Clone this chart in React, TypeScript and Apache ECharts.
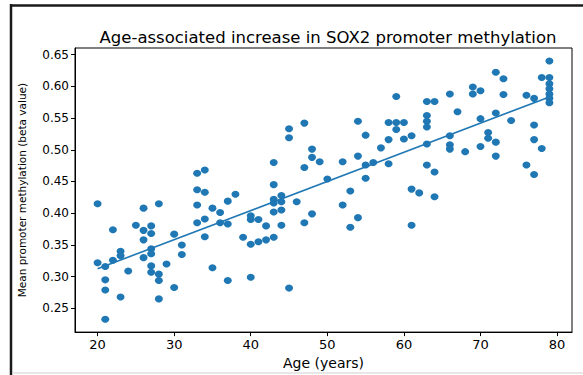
import React, { useEffect, useRef } from "react";
import * as echarts from "echarts";

const ages: number[] = [
  20, 20, 21, 21, 21, 21, 22, 22, 23, 23, 23, 24, 25, 26, 26, 26, 26,
  27, 27, 27, 27, 27, 27, 28, 28, 28, 28, 29, 30, 30, 31, 31,
  33, 33, 33, 33, 34, 34, 34, 34, 35, 35, 36, 36, 37, 37, 37, 38, 39,
  40, 40, 40, 40, 41, 41, 42, 42, 43, 43, 43, 43, 43, 43, 44, 44, 44, 44,
  45, 45, 45, 46, 47, 47, 47, 48, 48, 48, 49, 50, 52, 52, 53, 53,
  54, 54, 54, 55, 55, 55, 56, 57, 58, 58, 58, 59, 59, 59, 60, 60,
  61, 61, 61, 62, 63, 63, 63, 63, 63, 63, 64, 64, 64, 66, 66, 66, 66,
  67, 68, 69, 69, 70, 70, 70, 71, 71, 72, 72, 72, 72, 73, 73, 74,
  76, 76, 77, 77, 77, 77, 78, 78, 79, 79, 79, 79, 79, 79, 79,
];

const methylation: number[] = [
  0.415, 0.322, 0.316, 0.295, 0.279, 0.233, 0.374, 0.326, 0.34, 0.333, 0.268, 0.309, 0.381,
  0.408, 0.373, 0.358, 0.33,
  0.38, 0.368, 0.344, 0.336, 0.317, 0.307, 0.415, 0.304, 0.294, 0.265, 0.32, 0.367, 0.283,
  0.35, 0.335,
  0.463, 0.437, 0.413, 0.385, 0.468, 0.433, 0.391, 0.363, 0.408, 0.314, 0.401, 0.385,
  0.419, 0.383, 0.294, 0.43, 0.362,
  0.396, 0.39, 0.351, 0.299, 0.39, 0.355, 0.38, 0.358, 0.48, 0.445, 0.422, 0.416, 0.402, 0.362,
  0.428, 0.418, 0.405, 0.381,
  0.533, 0.519, 0.282, 0.418, 0.542, 0.472, 0.385, 0.501, 0.488, 0.399, 0.481, 0.454,
  0.481, 0.413, 0.435, 0.378,
  0.545, 0.49, 0.393, 0.523, 0.476, 0.455, 0.48, 0.503, 0.543, 0.516, 0.478, 0.584, 0.543, 0.532,
  0.543, 0.517,
  0.522, 0.438, 0.381, 0.432, 0.576, 0.554, 0.545, 0.536, 0.509, 0.476, 0.576, 0.465, 0.426,
  0.588, 0.522, 0.508, 0.501,
  0.56, 0.497, 0.599, 0.588, 0.593, 0.549, 0.505, 0.527, 0.518, 0.622, 0.558, 0.512, 0.49,
  0.612, 0.587, 0.546,
  0.586, 0.476, 0.581, 0.539, 0.516, 0.461, 0.614, 0.502, 0.64, 0.614, 0.604, 0.596, 0.588, 0.581, 0.574,
];

const xTicks: number[] = [20, 30, 40, 50, 60, 70, 80];
const yTicks: number[] = [0.25, 0.3, 0.35, 0.4, 0.45, 0.5, 0.55, 0.6, 0.65];

const titleText = "Age-associated increase in SOX2 promoter methylation";
const xName = "Age (years)";
const yName = "Mean promoter methylation (beta value)";

export default function App() {
  const ref = useRef<HTMLDivElement>(null);
  useEffect(() => {
    const chart = echarts.init(ref.current!, null, { renderer: "svg" });
    const pts = ages.map((a, i) => [a, methylation[i]]);
    const n = ages.length;
    const mx = ages.reduce((s, v) => s + v, 0) / n;
    const my = methylation.reduce((s, v) => s + v, 0) / n;
    let sxy = 0;
    let sxx = 0;
    for (let i = 0; i < n; i++) {
      sxy += (ages[i] - mx) * (methylation[i] - my);
      sxx += (ages[i] - mx) * (ages[i] - mx);
    }
    const slope = sxy / sxx;
    const icpt = my - slope * mx;
    const xLo = Math.min(...ages);
    const xHi = Math.max(...ages);
    const yLo = Math.min(...methylation);
    const yHi = Math.max(...methylation);
    const xPad = (xHi - xLo) * 0.05;
    const yPad = (yHi - yLo) * 0.05;
    const fit = [
      [xLo, icpt + slope * xLo],
      [xHi, icpt + slope * xHi],
    ];
    const font = "DejaVu Sans";
    chart.setOption({
      animation: false,
      backgroundColor: "#fff",
      title: {
        text: titleText,
        left: 323,
        textAlign: "center",
        top: 24,
        textStyle: { fontFamily: font, fontSize: 16.5, fontWeight: "normal", color: "#000" },
      },
      grid: {
        left: 75,
        right: 11,
        top: 48,
        bottom: 34,
        show: true,
        borderColor: "#000",
        borderWidth: 1,
        backgroundColor: "transparent",
      },
      xAxis: {
        type: "value",
        min: xLo - xPad,
        max: xHi + xPad,
        name: xName,
        nameLocation: "middle",
        nameGap: 23,
        nameTextStyle: { fontFamily: font, fontSize: 14, color: "#000" },
        axisLine: { show: true, onZero: false, lineStyle: { color: "#000", width: 1 } },
        axisTick: { show: true, length: 4, customValues: xTicks, lineStyle: { color: "#000" } },
        axisLabel: {
          customValues: xTicks,
          fontFamily: font,
          fontSize: 13,
          color: "#000",
          margin: 6,
        },
        splitLine: { show: false },
      },
      yAxis: {
        type: "value",
        min: yLo - yPad,
        max: yHi + yPad,
        name: yName,
        nameLocation: "middle",
        nameGap: 48,
        nameRotate: 90,
        nameTextStyle: { fontFamily: font, fontSize: 10.5, color: "#000" },
        axisLine: { show: true, onZero: false, lineStyle: { color: "#000", width: 1 } },
        axisTick: { show: true, length: 4, customValues: yTicks, lineStyle: { color: "#000" } },
        axisLabel: {
          customValues: yTicks,
          fontFamily: font,
          fontSize: 12,
          color: "#000",
          margin: 6,
          formatter: (v: number) => v.toFixed(2),
        },
        splitLine: { show: false },
      },
      graphic: [
        { type: "line", shape: { x1: 11, y1: 4, x2: 11, y2: 375 }, style: { stroke: "#1a1a1a", lineWidth: 2.5 } },
        { type: "line", shape: { x1: 10, y1: 5.5, x2: 583, y2: 5.5 }, style: { stroke: "#1a1a1a", lineWidth: 2.5 } },
        { type: "line", shape: { x1: 12, y1: 373, x2: 583, y2: 373 }, style: { stroke: "#cfcfcf", lineWidth: 1 } },
      ],
      series: [
        {
          type: "scatter",
          data: pts,
          symbol: "circle",
          symbolSize: [8, 7],
          itemStyle: { color: "#1f77b4", opacity: 1 },
          z: 2,
        },
        {
          type: "line",
          data: fit,
          showSymbol: false,
          symbol: "none",
          lineStyle: { color: "#1f77b4", width: 1.6 },
          z: 3,
        },
      ],
    });
    return () => chart.dispose();
  }, []);
  return (
    <div
      ref={ref}
      style={{ position: "absolute", left: 0, top: 0, width: 583, height: 375, background: "#fff" }}
    />
  );
}
